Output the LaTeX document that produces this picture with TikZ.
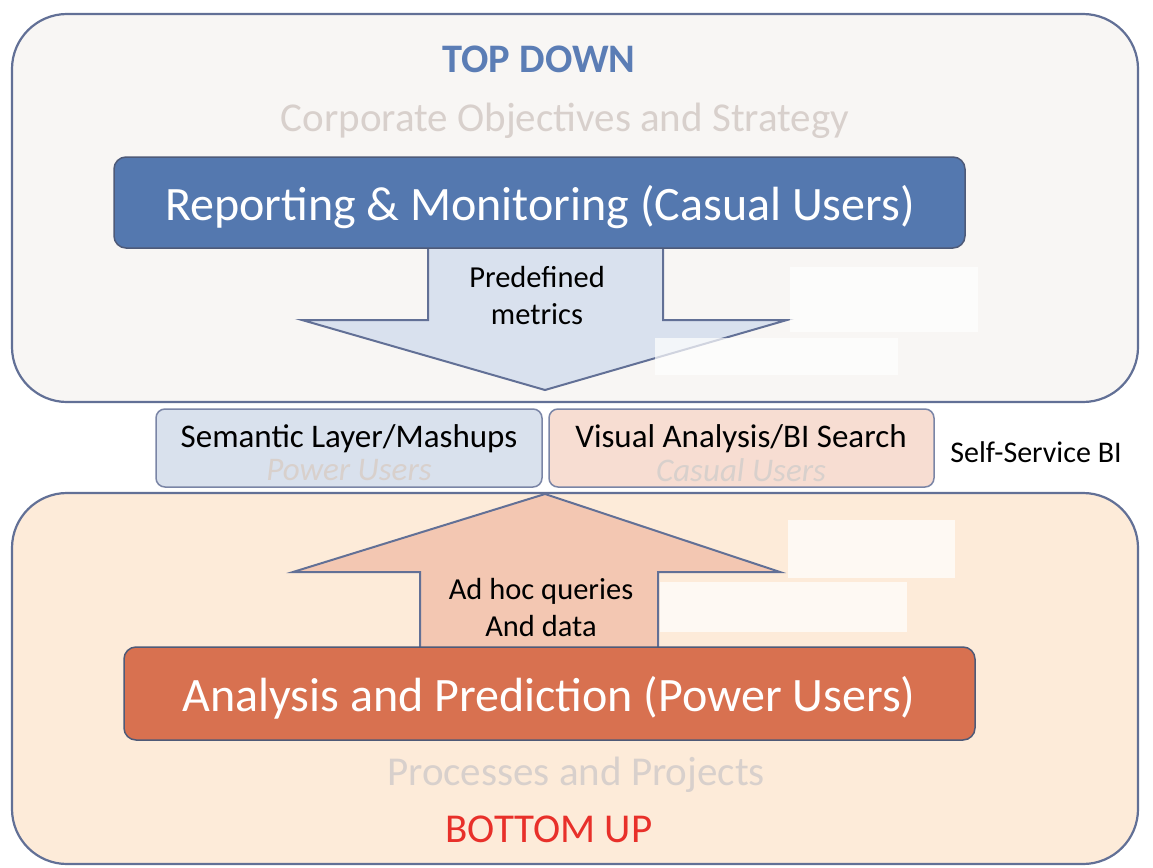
\documentclass[tikz,border=0pt]{standalone}
\usepackage{fontspec}
\setmainfont{Carlito}
\definecolor{frame}{RGB}{98,112,150}
\definecolor{topfill}{RGB}{248,246,244}
\definecolor{botfill}{RGB}{253,235,217}
\definecolor{repfill}{RGB}{84,120,175}
\definecolor{anafill}{RGB}{216,113,80}
\definecolor{darrow}{RGB}{217,225,238}
\definecolor{uarrow}{RGB}{243,199,178}
\definecolor{midl}{RGB}{217,225,237}
\definecolor{midr}{RGB}{247,221,210}
\definecolor{ghost}{RGB}{216,208,204}
\definecolor{topblue}{RGB}{91,125,181}
\definecolor{botred}{RGB}{232,48,42}
\tikzset{
  outerbox/.style={draw=frame, line width=2.2pt, rounded corners=55pt},
  bigbox/.style={draw=frame!80!black, line width=1.5pt, rounded corners=12pt},
  bigtxt/.style={text=white, font=\fontsize{48}{52}\selectfont},
  midbox/.style={draw=frame!85, line width=1.5pt, rounded corners=9pt},
  arrowshape/.style={draw=frame, line width=2pt, line join=miter},
  txt/.style={font=\fontsize{30.5}{37}\selectfont},
  midtxt/.style={font=\fontsize{33}{37}\selectfont},
  ghosttxt/.style={text=ghost, font=\fontsize{41}{44}\selectfont},
  ghostsmall/.style={text=ghost, font=\itshape\fontsize{33}{36}\selectfont},
  patch/.style={fill=white, opacity=0.7, draw=none}
}
\begin{document}
\begin{tikzpicture}[x=1pt,y=-1pt]
\useasboundingbox (0,0) rectangle (1153,867);
\fill[white] (0,0) rectangle (1153,867);
% outer boxes
\path[outerbox, fill=topfill] (12,14) rectangle (1138,402);
\path[outerbox, fill=botfill] (12,493) rectangle (1138,864);
\node[font=\bfseries\fontsize{40.5}{44}\selectfont, text=topblue] (topdown) at (539,59) {TOP DOWN};
\node[ghosttxt] (corp) at (565,121) {Corporate Objectives and Strategy};
% down arrow
\coordinate (dtip) at (545,390);
\path[arrowshape, fill=darrow] (428,246) -- (428,320) -- (302,320) -- (dtip) -- (787,320) -- (663,320) -- (663,246);
\node[bigbox, fill=repfill, minimum width=851pt, minimum height=91pt] (report) at (539.5,202.5) {};
\node[bigtxt] (reportt) at (540,207) {Reporting \& Monitoring (Casual Users)};
\node[txt, align=center] (predef) at (537,296) {Predefined\\metrics};
% patches top
\path[patch] (790,267) rectangle (978,332);
\path[patch] (655,338) rectangle (898,375);
% middle boxes
\node[midbox, fill=midl, minimum width=386pt, minimum height=78pt] (sem) at (349,448) {};
\node[midtxt] (semt) at (349,439) {Semantic Layer/Mashups};
\node[ghostsmall] (semu) at (349,470) {Power Users};
\node[midbox, fill=midr, minimum width=385pt, minimum height=78pt] (vis) at (741.5,448) {};
\node[midtxt] (vist) at (741,439) {Visual Analysis/BI Search};
\node[ghostsmall] (visu) at (741,470) {Casual Users};
\node[font=\fontsize{30}{34}\selectfont] (ssbi) at (1036,452) {Self-Service BI};
% up arrow
\coordinate (utip) at (545,494);
\path[arrowshape, fill=uarrow] (420,650) -- (420,572) -- (293,572) -- (utip) -- (780,572) -- (658,572) -- (658,650);
% patches bottom
\path[patch] (788,520) rectangle (955,578);
\path[patch] (660,582) rectangle (907,632);
\node[txt, align=center] (adhoc) at (541,608) {Ad hoc queries\\And data};
\node[bigbox, fill=anafill, minimum width=851pt, minimum height=93pt] (ana) at (549.5,693.5) {};
\node[bigtxt] (anat) at (549,698) {Analysis and Prediction (Power Users)};
\node[ghosttxt] (proc) at (576,775) {Processes and Projects};
\node[font=\fontsize{41}{44}\selectfont, text=botred] (bottomup) at (549,829) {BOTTOM UP};
\end{tikzpicture}
\end{document}
